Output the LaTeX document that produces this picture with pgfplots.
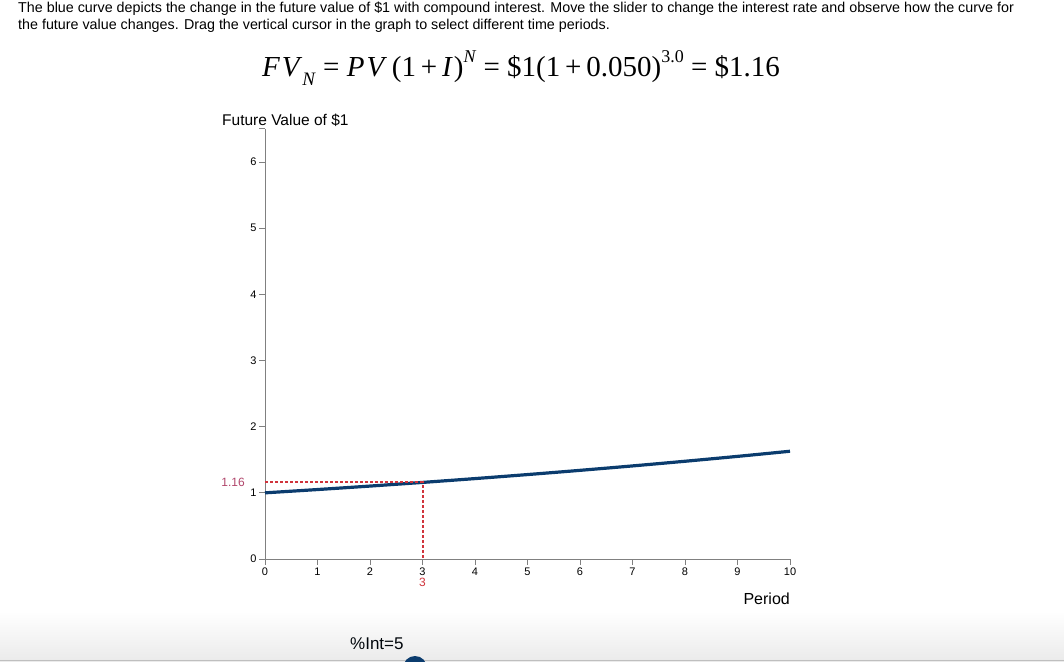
\documentclass[border=0pt]{standalone}
\usepackage{pgfplots}
\pgfplotsset{compat=1.18}
\usepackage{fontspec}
\setmainfont{Liberation Sans}
\newfontfamily\serif{Liberation Serif}
\definecolor{navy}{HTML}{0B3C6E}
\definecolor{cursor}{HTML}{D0343C}
\definecolor{lab}{HTML}{B0456A}
\definecolor{axgray}{HTML}{808080}
\begin{document}
\begin{tikzpicture}[x=1pt,y=1pt]
\useasboundingbox (0,0) rectangle (1064,661);
\begin{scope}
\clip (0,0) rectangle (1064,661);
\shade[top color=white,bottom color=black!8] (0,0) rectangle (1064,50);
\draw[black!25] (0,1) -- (1064,1);
\fill[navy] (415,-7) circle (12);
\end{scope}
% top text
\node[anchor=base west,inner sep=0] at (18,648) {\fontsize{14.3}{16}\selectfont The blue curve depicts the change in the future value of \$1 with compound interest. Move the slider to change the interest rate and observe how the curve for};
\node[anchor=base west,inner sep=0] at (18,631) {\fontsize{14.3}{16}\selectfont the future value changes. Drag the vertical cursor in the graph to select different time periods.};
% formula
\node[anchor=base west,inner sep=0] at (262,584) {\fontsize{29}{32}\selectfont\serif
\textit{F\kern2pt V}\raisebox{-0.3em}{\fontsize{19}{21}\selectfont\textit{N}} = \textit{P\kern2pt V}\,(1\,+\,\textit{I}\kern1pt)\raisebox{0.5em}{\fontsize{18}{20}\selectfont\textit{N}} = \$1(1\,+\,0.050)\raisebox{0.5em}{\fontsize{18}{20}\selectfont 3.0} = \$1.16};
% labels
\node[anchor=base west,inner sep=0] at (222,535) {\fontsize{15.5}{17}\selectfont Future Value of \$1};
\node[anchor=base east,inner sep=0] at (790,57) {\fontsize{16}{18}\selectfont Period};
\node[anchor=base west,inner sep=0,text=black!90!navy] at (350,12) {\fontsize{17}{19}\selectfont \%Int=5};
\begin{axis}[
  at={(265pt,102pt)}, anchor=south west,
  scale only axis, width=525pt, height=430pt,
  xmin=0, xmax=10, ymin=0, ymax=6.5,
  axis lines=left, axis line style={axgray,line width=1pt,-},
  xtick={0,...,10}, ytick={0,...,6},
  tick align=outside, major tick length=6pt,
  tick style={axgray,line width=1pt},
  tick label style={font=\fontsize{11}{13}\selectfont, text=black},
  /pgf/number format/assume math mode=true,
  xticklabel style={yshift=1pt},
  yticklabel style={xshift=1pt},
  clip=false,
]
\addplot[navy, line width=3.2pt, smooth] coordinates {
(0,1.0000) (1,1.0500) (2,1.1025) (3,1.1576) (4,1.2155) (5,1.2763)
(6,1.3401) (7,1.4071) (8,1.4775) (9,1.5513) (10,1.6289)};
\addplot[cursor, line width=2pt, dash pattern=on 3pt off 2pt] coordinates {(0,1.16) (3,1.16) (3,0)};
\draw[axgray,line width=1pt] (axis cs:0,6.5) -- ++(-6pt,0);
\node[anchor=east,text=lab,inner sep=0,font=\fontsize{12}{14}\selectfont] at ([xshift=-20pt]axis cs:0,1.16) {1.16};
\node[anchor=north,text=cursor,inner sep=0,font=\fontsize{12}{14}\selectfont] at ([yshift=-19pt]axis cs:3,0) {3};
\end{axis}
\end{tikzpicture}
\end{document}
